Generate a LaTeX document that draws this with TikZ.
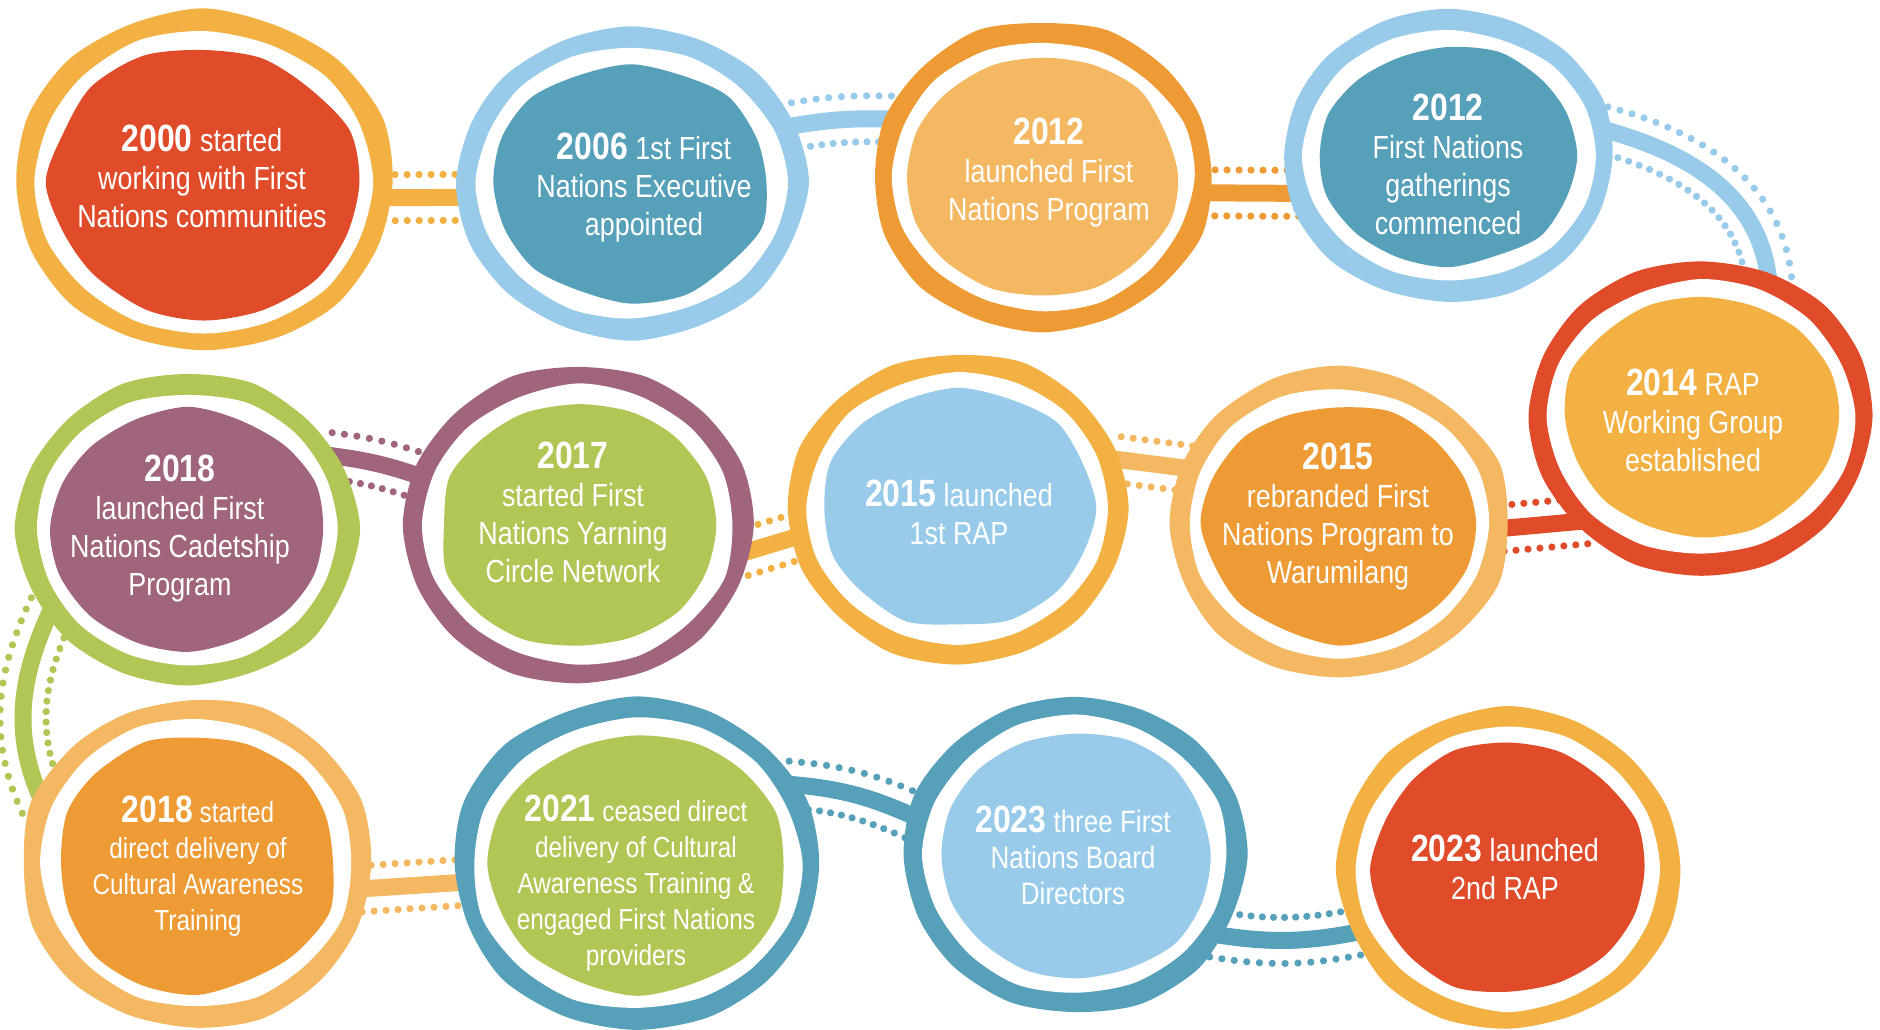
\documentclass[tikz,border=0pt]{standalone}
\usepackage{fontspec}
\setmainfont{Liberation Sans}[FakeStretch=0.84]
\usetikzlibrary{shapes.geometric,decorations.markings,backgrounds}

\definecolor{fnred}{HTML}{E04B2A}
\definecolor{fngold}{HTML}{F3B143}
\definecolor{fnorange}{HTML}{EE9B35}
\definecolor{fnpeach}{HTML}{F5B862}
\definecolor{fnteal}{HTML}{57A0BA}
\definecolor{fnsky}{HTML}{98CAEA}
\definecolor{fngreen}{HTML}{B0C655}
\definecolor{fnplum}{HTML}{A0647D}

\newcommand{\yr}[1]{{\fontsize{19}{19}\selectfont\bfseries #1}}
% hand-cut ring, white gap and coloured disc round a spot node
\newcommand{\ringblob}[5]{%
  \fill[#4,shift={(#1)}] plot[wob] (\x:{(#2+10)*(1+0.018*rand)} and {(#3+10)*(1+0.018*rand)});
  \fill[white,shift={(#1)}] plot[wob] (\x:{(#2-10)*(1+0.015*rand)} and {(#3-10)*(1+0.015*rand)});
  \fill[#5,shift={(#1)}] plot[wob] (\x:{(#2-26)*(1+0.03*rand)} and {(#3-26)*(1+0.03*rand)});}

\begin{document}
\begin{tikzpicture}[
    x=0.5pt, y=0.5pt,
    spot/.style={ellipse,inner sep=0pt,outer sep=0pt},
    wob/.style={smooth cycle,samples=16,domain=0:337.5},
    txt/.style={text=white,align=center,font=\fontsize{16}{19}\selectfont},
    small/.style={font=\fontsize{14.5}{18}\selectfont},
    link/.style={draw=#1,line width=8.5pt,
      postaction={decorate,decoration={markings,
        mark=between positions 0 and 1 step 6pt with {\fill[#1] (0pt,11.5pt) circle (1.8pt);
                                                     \fill[#1] (0pt,-11.5pt) circle (1.8pt);}}}}
  ]
  \pgfmathsetseed{12}
  \useasboundingbox (0,0) rectangle (1880,-1029);

  %% top row
  \node[spot,minimum width=180pt,minimum height=161pt] (y2000) at (204,-182) {};
  \ringblob{y2000}{180}{161}{fngold}{fnred}
  \node[txt] (y2000-tx) at (202,-176) {\yr{2000} started\\working with First\\Nations communities};

  \node[spot,minimum width=165pt,minimum height=145pt] (y2006) at (631,-183) {};
  \ringblob{y2006}{165}{145}{fnsky}{fnteal}
  \node[txt] (y2006-tx) at (644,-188) {\yr{2006} 1st First\\Nations Executive\\appointed};

  \node[spot,minimum width=161pt,minimum height=145pt] (y2012a) at (1043,-176) {};
  \ringblob{y2012a}{161}{145}{fnorange}{fnpeach}
  \node[txt] (y2012a-tx) at (1049,-173) {\yr{2012}\\launched First\\Nations Program};

  \node[spot,minimum width=156pt,minimum height=136pt] (y2012b) at (1449,-156) {};
  \ringblob{y2012b}{156}{136}{fnsky}{fnteal}
  \node[txt] (y2012b-tx) at (1448,-164) {\yr{2012}\\First Nations\\gatherings\\commenced};

  \node[spot,minimum width=163pt,minimum height=147pt] (y2014) at (1701,-417) {};
  \ringblob{y2014}{163}{147}{fnred}{fngold}
  \node[txt] (y2014-tx) at (1693,-420) {\yr{2014} RAP\\Working Group\\established};

  %% middle row
  \node[spot,minimum width=161pt,minimum height=146pt] (y2018a) at (188,-529) {};
  \ringblob{y2018a}{161}{146}{fngreen}{fnplum}
  \node[txt] (y2018a-tx) at (180,-529) {\yr{2018}\\launched First\\Nations Cadetship\\Program};

  \node[spot,minimum width=165pt,minimum height=150pt] (y2017) at (579,-525) {};
  \ringblob{y2017}{165}{150}{fnplum}{fngreen}
  \node[txt] (y2017-tx) at (573,-512) {\yr{2017}\\started First\\Nations Yarning\\Circle Network};

  \node[spot,minimum width=162pt,minimum height=145pt] (y2015a) at (958,-508) {};
  \ringblob{y2015a}{162}{145}{fngold}{fnsky}
  \node[txt] (y2015a-tx) at (959,-512) {\yr{2015} launched\\1st RAP};

  \node[spot,minimum width=161pt,minimum height=145pt] (y2015b) at (1339,-523) {};
  \ringblob{y2015b}{161}{145}{fnpeach}{fnorange}
  \node[txt] (y2015b-tx) at (1338,-517) {\yr{2015}\\rebranded First\\Nations Program to\\Warumilang};

  %% bottom row
  \node[spot,minimum width=166pt,minimum height=155pt] (y2018b) at (197,-863) {};
  \ringblob{y2018b}{166}{155}{fnpeach}{fnorange}
  \node[txt,small] (y2018b-tx) at (198,-866) {\yr{2018} started\\direct delivery of\\Cultural Awareness\\Training};

  \node[spot,minimum width=175pt,minimum height=156pt] (y2021) at (637,-864) {};
  \ringblob{y2021}{175}{156}{fnteal}{fngreen}
  \node[txt,small] (y2021-tx) at (636,-883) {\yr{2021} ceased direct\\delivery of Cultural\\Awareness Training \&\\engaged First Nations\\providers};

  \node[spot,minimum width=162pt,minimum height=149pt] (y2023a) at (1076,-855) {};
  \ringblob{y2023a}{162}{149}{fnteal}{fnsky}
  \node[txt,font=\fontsize{15.5}{18}\selectfont] (y2023a-tx) at (1073,-855) {\yr{2023} three First\\Nations Board\\Directors};

  \node[spot,minimum width=162pt,minimum height=151pt] (y2023b) at (1508,-869) {};
  \ringblob{y2023b}{162}{151}{fngold}{fnred}
  \node[txt] (y2023b-tx) at (1505,-867) {\yr{2023} launched\\2nd RAP};

  %% links behind the circles
  \begin{scope}[on background layer]
    \draw[link=fngold] (y2000.-5) -- (y2006.185);
    \draw[link=fnsky] (y2006.20) to[bend left=6] (y2012a.159);
    \draw[link=fnorange] (y2012a.-6) -- (y2012b.194);
    \draw[link=fnsky] (y2012b.10) to[out=-15,in=95] (y2014.63);
    \draw[link=fnred] (y2014.222) -- (y2015b.-2);
    \draw[link=fnpeach] (y2015b.160) -- (y2015a.18);
    \draw[link=fngold] (y2015a.190) -- (y2017.-10);
    \draw[link=fnplum] (y2017.163) to[bend right=6] (y2018a.28);
    \draw[link=fngreen] (y2018a.210) to[out=245,in=115] (y2018b.159);
    \draw[link=fnpeach] (y2018b.-9) -- (y2021.186);
    \draw[link=fnteal] (y2021.28) to[bend left=10] (y2023a.167);
    \draw[link=fnteal] (y2023a.-30) to[bend right=10] (y2023b.203);
  \end{scope}
\end{tikzpicture}
\end{document}
